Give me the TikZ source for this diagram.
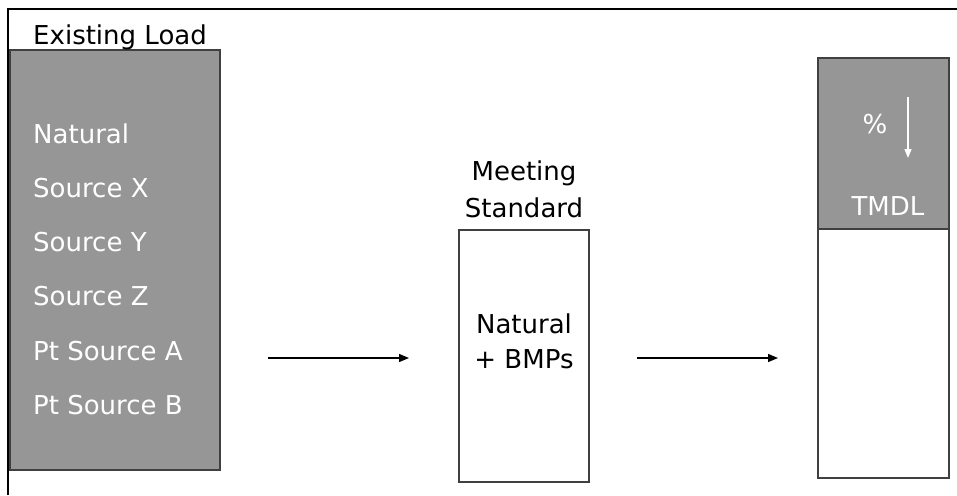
\documentclass[tikz,border=0pt]{standalone}
\usepackage{fontspec}
\setmainfont{DejaVu Sans}
\usetikzlibrary{arrows.meta}
\definecolor{boxgrey}{HTML}{969696}
\definecolor{edgegrey}{HTML}{404040}
\tikzset{
  lbl/.style={font=\fontsize{26}{30}\selectfont, inner sep=0pt},
  wlbl/.style={lbl, text=white},
  load/.style={draw=edgegrey, line width=1.2pt, fill=boxgrey},
  emptybox/.style={draw=edgegrey, line width=1.2pt, fill=white},
  flow/.style={-{Triangle[length=10pt,width=8pt]}, line width=1.3pt}
}
\begin{document}
\begin{tikzpicture}[x=1pt,y=-1pt]
\useasboundingbox (0,0) rectangle (957,495);
\draw[line width=2pt] (8,495) -- (8,9) -- (957,9);
% left box
\draw[load] (10,50) rectangle (220,470);
\node[lbl, anchor=base west] (title) at (33,45) {Existing Load};
\node[wlbl, anchor=base west] (n1) at (33,143) {Natural};
\node[wlbl, anchor=base west] (n2) at (33,197) {Source X};
\node[wlbl, anchor=base west] (n3) at (33,251) {Source Y};
\node[wlbl, anchor=base west] (n4) at (33,305) {Source Z};
\node[wlbl, anchor=base west] (n5) at (33,360) {Pt Source A};
\node[wlbl, anchor=base west] (n6) at (33,414) {Pt Source B};
% middle box
\draw[emptybox] (459,230) rectangle (589,482);
\node[lbl, anchor=base] (m1) at (524,180) {Meeting};
\node[lbl, anchor=base] (m2) at (524,217) {Standard};
\node[lbl, anchor=base] (m3) at (524,333) {Natural};
\node[lbl, anchor=base] (m4) at (524,368) {+ BMPs};
% right box
\draw[emptybox] (818,229) rectangle (949,478);
\draw[load] (818,58) rectangle (949,229);
\node[wlbl, anchor=base] (pct) at (875,133) {\%};
\coordinate (at) at (908,97);
\coordinate (ab) at (908,158);
\draw[-{Triangle[length=9pt,width=7pt]}, white, line width=1.5pt] (at) -- (ab);
\node[wlbl, anchor=base] (tmdl) at (888,215) {TMDL};
% arrows
\coordinate (a1s) at (268,358);
\coordinate (a1e) at (409,358);
\coordinate (a2s) at (637,358);
\coordinate (a2e) at (778,358);
\draw[flow] (a1s) -- (a1e);
\draw[flow] (a2s) -- (a2e);
\end{tikzpicture}
\end{document}
